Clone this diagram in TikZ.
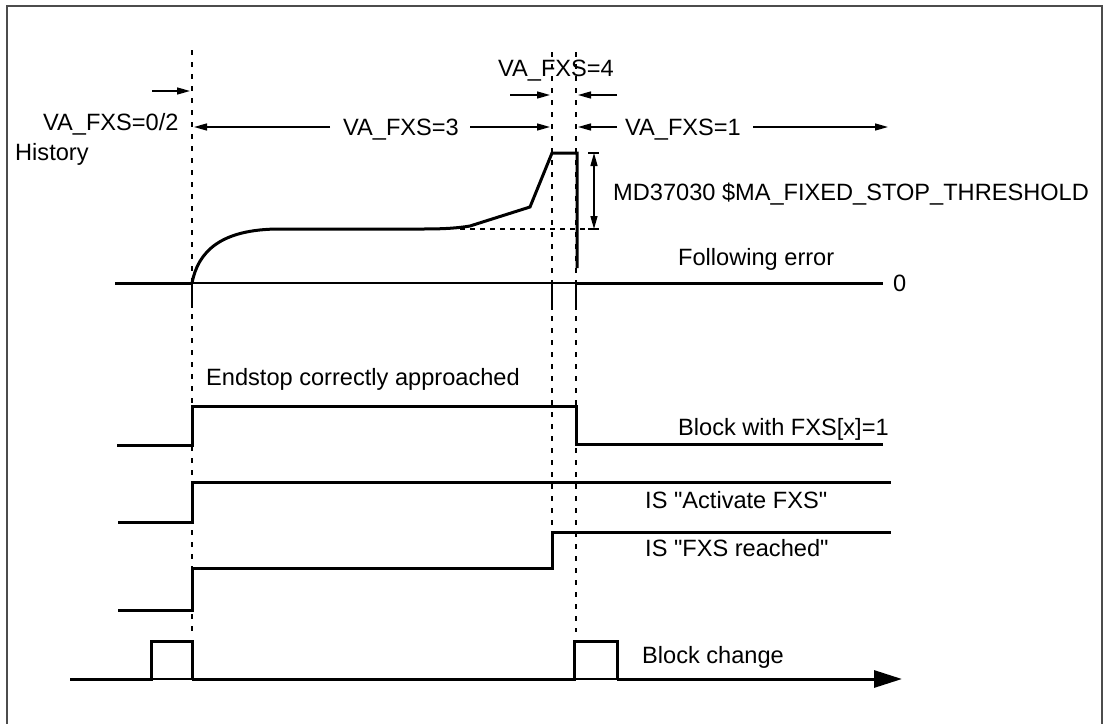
\documentclass[tikz,border=0pt]{standalone}
\usepackage{fontspec}
\setmainfont{Liberation Sans}[Ligatures=TeXOff]
\usetikzlibrary{arrows.meta}
\begin{document}
\begin{tikzpicture}[x=1pt,y=-1pt,
  lbl/.style={anchor=base west,inner sep=0pt,font=\fontsize{23.6}{28}\selectfont},
  sig/.style={line width=3pt,line join=miter,line cap=butt},
  thin/.style={line width=1.4pt},
  guide/.style={line width=1.3pt,dash pattern=on 5pt off 7pt},
  harr/.style={line width=1.4pt,-{Triangle[length=13pt,width=7pt]}},
  darr/.style={line width=1.4pt,{Triangle[length=13pt,width=7pt]}-{Triangle[length=13pt,width=7pt]}},
  bigarr/.style={line width=3pt,-{Triangle[length=28pt,width=17pt]}}]
\useasboundingbox (0,0) rectangle (1103,723);
\draw[line width=2.2pt,gray!60!black] (7,6) rectangle (1102,735);

% guide lines
\draw[guide] (192,50) -- (192,632);
\draw[guide] (552,52) -- (552,532);
\draw[guide] (576,52) -- (576,632);

% top labels and arrows
\node[lbl] (t02) at (43,130.5) {VA\_FXS=0/2};
\node[lbl] (hist) at (15,160.5) {History};
\node[lbl] (t3) at (343,135.5) {VA\_FXS=3};
\node[lbl] (t4) at (498,76.5) {VA\_FXS=4};
\node[lbl] (t1) at (625,135.5) {VA\_FXS=1};
\coordinate (a0s) at (152,91); \coordinate (a0e) at (190,91);
\draw[harr] (a0s) -- (a0e);
\coordinate (a3ls) at (330,127); \coordinate (a3le) at (194,127);
\coordinate (a3rs) at (470,127); \coordinate (a3re) at (550,127);
\draw[harr] (a3ls) -- (a3le);
\draw[harr] (a3rs) -- (a3re);
\coordinate (a4ls) at (510,95); \coordinate (a4le) at (550,95);
\coordinate (a4rs) at (617,95); \coordinate (a4re) at (578,95);
\draw[harr] (a4ls) -- (a4le);
\draw[harr] (a4rs) -- (a4re);
\coordinate (a1ls) at (617,127); \coordinate (a1le) at (578,127);
\coordinate (a1rs) at (753,127); \coordinate (a1re) at (888,127);
\draw[harr] (a1ls) -- (a1le);
\draw[harr] (a1rs) -- (a1re);

% following error
\draw[sig] (115,283) -- (192,283);
\draw[thin] (192,283) -- (576,283);
\draw[sig] (576,283) -- (883,283);
\draw[thin] (192,283) -- (192,308);
\draw[thin] (552,283) -- (552,310);
\draw[thin] (576,283) -- (576,310);
\draw[sig] (192,283) .. controls (198,252) and (220,229) .. (280,229)
  -- (423,229) .. controls (445,229) and (458,228) .. (470,226)
  -- (530,207) -- (552,153) -- (577,153) -- (577,268);
\draw[thin,dash pattern=on 5pt off 5pt] (460,229) -- (588,229);
\draw[thin] (588,153) -- (599,153);
\draw[thin] (588,229) -- (599,229);
\coordinate (dimt) at (594,153); \coordinate (dimb) at (594,229);
\draw[darr] (dimt) -- (dimb);
\node[lbl] (md) at (613,200.5) {MD37030 \$MA\_FIXED\_STOP\_THRESHOLD};
\node[lbl] (fe) at (678,265.5) {Following error};
\node[lbl] (zero) at (893,291.5) {0};

% signals
\node[lbl] (endstop) at (206,385.5) {Endstop correctly approached};
\draw[sig] (117,445) -- (192,445) -- (192,406) -- (576,406) -- (576,444) -- (883,444);
\node[lbl] (blk) at (678,435.5) {Block with FXS[x]=1};
\draw[sig] (118,522) -- (192,522) -- (192,482) -- (891,482);
\node[lbl] (act) at (645,508.5) {IS "Activate FXS"};
\draw[sig] (118,610) -- (192,610) -- (192,568) -- (552,568) -- (552,532) -- (891,532);
\node[lbl] (reach) at (645,556.5) {IS "FXS reached"};

% block change
\draw[sig] (70,679) -- (151,679) -- (151,641) -- (192,641) -- (192,679);
\draw[thin] (151,679) -- (192,679);
\draw[sig] (192,679) -- (574,679) -- (574,641) -- (617,641) -- (617,679);
\draw[thin] (574,679) -- (617,679);
\coordinate (bcs) at (617,679); \coordinate (bce) at (902,679);
\draw[bigarr] (bcs) -- (bce);
\node[lbl] (bc) at (642,663.5) {Block change};
\end{tikzpicture}
\end{document}
